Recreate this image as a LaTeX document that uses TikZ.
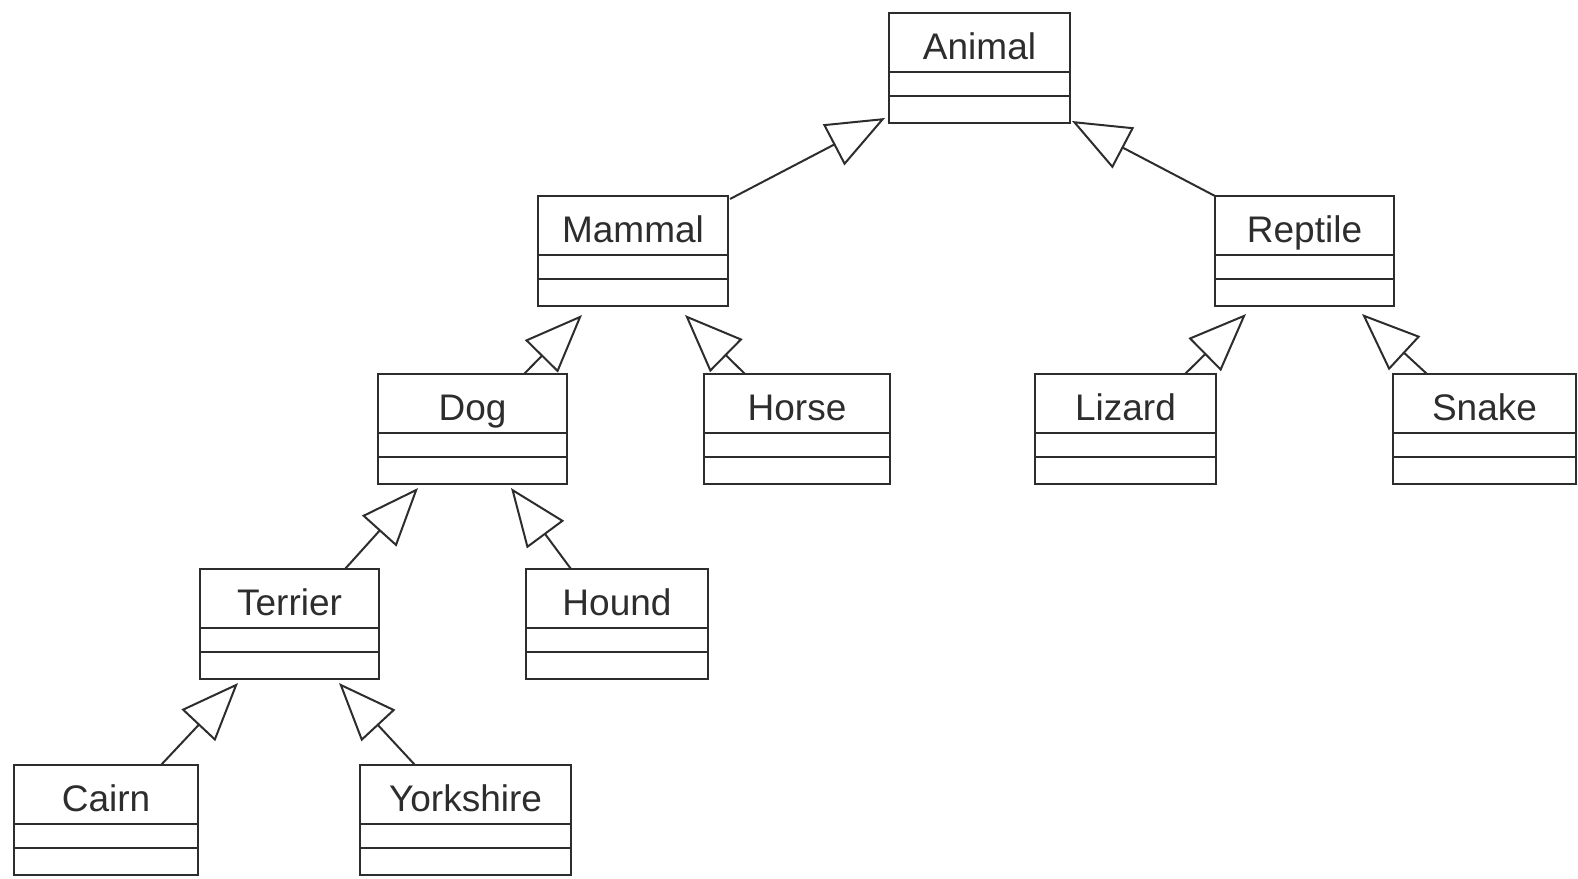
\documentclass[tikz,border=0pt]{standalone}
\usepackage{fontspec}
\setmainfont{Liberation Sans}
\usetikzlibrary{arrows.meta,positioning}
\definecolor{umlline}{RGB}{45,45,45}

\begin{document}
\begin{tikzpicture}[x=1pt, y=-1pt,
  cname/.style={draw=umlline, line width=2pt, anchor=north, minimum height=59pt,
    inner sep=0pt, outer sep=0pt, text height=33pt, text depth=0pt,
    font=\fontsize{37}{40}\selectfont, text=umlline},
  cattr/.style={draw=umlline, line width=2pt, minimum height=24pt, inner sep=0pt, outer sep=0pt},
  cops/.style={draw=umlline, line width=2pt, minimum height=27pt, inner sep=0pt, outer sep=0pt},
  isa/.style={draw=umlline, line width=2pt,
    -{Triangle[length=58pt, width=46pt, fill=white]}},
]
\useasboundingbox (0,0) rectangle (1578,878);

% Classes: name / attributes / operations
\foreach \nm/\lbl/\cx/\ty/\w in {
    animal/Animal/979.5/13/181,
    mammal/Mammal/633/196/190,  reptile/Reptile/1304.5/196/179,
    dog/Dog/472.5/374/189,      horse/Horse/797/374/186,
    lizard/Lizard/1125.5/374/181, snake/Snake/1484.5/374/183,
    terrier/Terrier/289.5/569/179, hound/Hound/617/569/182,
    cairn/Cairn/106/765/184,    yorkshire/Yorkshire/465.5/765/211}{
  \node[cname, minimum width=\w pt] (\nm) at (\cx,\ty) {\lbl};
  \node[cattr, minimum width=\w pt, below=0pt of \nm] (\nm-a) {};
  \node[cops,  minimum width=\w pt, below=0pt of \nm-a] (\nm-o) {};
}

%-- Animal
\draw[isa] ([xshift=2pt,yshift=-3pt]mammal.north east) -- ([xshift=-4pt,yshift=5pt]animal-o.south west);
\draw[isa] (reptile.north west) -- ([xshift=2pt,yshift=2pt]animal-o.south east);

%-- Mammal
\draw[isa] ([xshift=-43pt]dog.north east) -- ([xshift=44pt,yshift=-9pt]mammal-o.south west);
\draw[isa] ([xshift=41pt]horse.north west) -- ([xshift=-43pt,yshift=-9pt]mammal-o.south east);

%-- Reptile
\draw[isa] ([xshift=-31pt]lizard.north east) -- ([xshift=31pt,yshift=-8pt]reptile-o.south west);
\draw[isa] ([xshift=34pt]snake.north west) -- ([xshift=-32pt,yshift=-8pt]reptile-o.south east);

%-- Dog
\draw[isa] ([xshift=-34pt]terrier.north east) -- ([xshift=40pt,yshift=-4pt]dog-o.south west);
\draw[isa] ([xshift=45pt]hound.north west) -- ([xshift=-56pt,yshift=-4pt]dog-o.south east);

%-- Terrier
\draw[isa] ([xshift=-37pt]cairn.north east) -- ([xshift=38pt,yshift=-4pt]terrier-o.south west);
\draw[isa] ([xshift=55pt]yorkshire.north west) -- ([xshift=-40pt,yshift=-4pt]terrier-o.south east);

\end{tikzpicture}
\end{document}
